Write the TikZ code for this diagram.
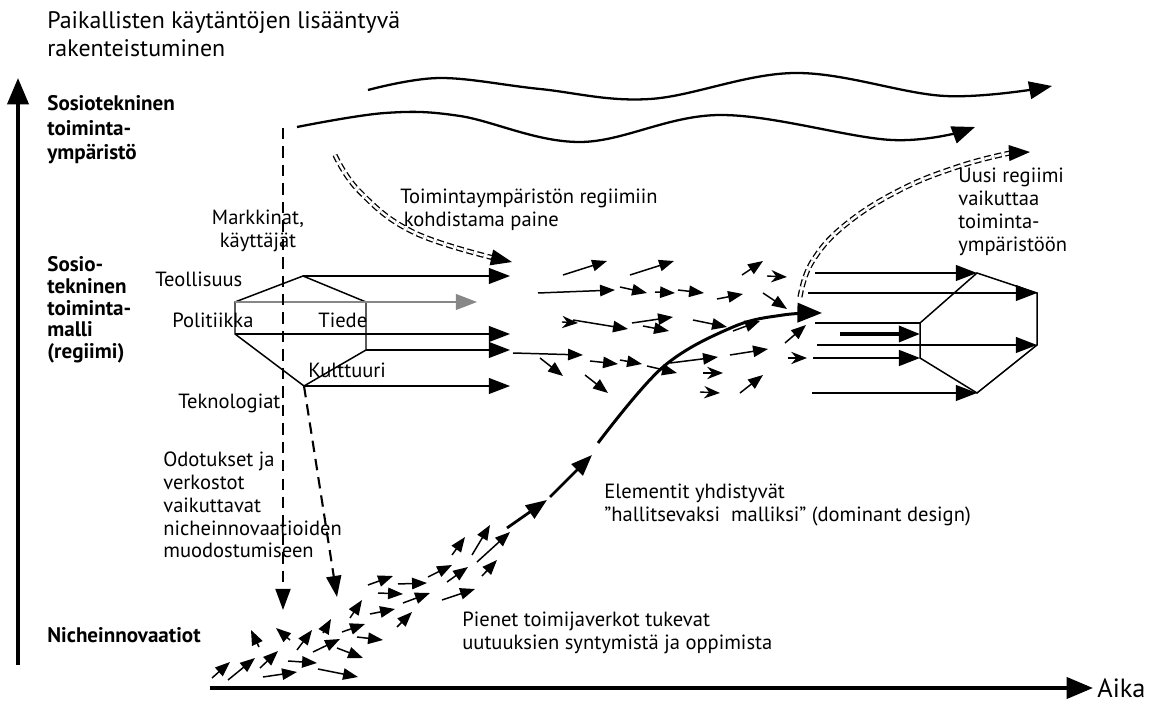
\documentclass[tikz,border=0pt]{standalone}
\usepackage{fontspec}
\setmainfont{PT Sans}
\usepackage{tikz}
\usetikzlibrary{arrows.meta}
\definecolor{gr}{RGB}{135, 135, 135}
\newcommand{\txtfont}{\fontsize{11.7}{13}\selectfont}
\newcommand{\bigfont}{\fontsize{13.6}{16}\selectfont}
\tikzset{
  lbl/.style={font=\txtfont, align=left, anchor=west, inner sep=0pt},
  lvl/.style={font=\fontsize{12}{14}\selectfont\bfseries, align=left, anchor=west, inner sep=0pt},
  hexline/.style={line width=0.85pt},
  hexarrow/.style={line width=0.85pt, -{Triangle[length=12pt,width=9pt]}},
  smallarrow/.style={line width=0.85pt, -{Triangle[length=8.5pt,width=6.5pt]}},
  headonly/.style={line width=0.8pt, -{Stealth[length=9pt,width=7pt]}},
  bigarrow/.style={line width=1.6pt, -{Triangle[length=12pt,width=9pt]}},
  dasharrow/.style={line width=1.2pt, dash pattern=on 6.5pt off 4pt, -{Triangle[length=12pt,width=8.5pt]}},
  ddash/.style={double, double distance=1.4pt, line width=0.75pt, dash pattern=on 4pt off 2pt},
  axisarrow/.style={line width=2.1pt, -{Triangle[length=15pt,width=12pt]}}
}

\begin{document}
\begin{tikzpicture}[x=0.02cm, y=-0.02cm]
        \useasboundingbox (0,0) rectangle (1154,702);
        % axes
        \coordinate (ylow) at (18,665);
        \coordinate (ytop) at (18,78);
        \coordinate (xlow) at (210,688);
        \coordinate (xtop) at (1093,688);
        \draw[axisarrow] (ylow) -- (ytop);
        \draw[axisarrow] (xlow) -- (xtop);
        \node[lbl, font=\fontsize{15}{17}\selectfont] (aika) at (1097,688) {Aika};

        % level labels
        \node[lbl, font=\bigfont] (paikalliset) at (47,34) {Paikallisten käytäntöjen lisääntyvä\\rakenteistuminen};
        \node[lvl] (ymparisto) at (47,130) {Sosiotekninen\\toiminta-\\ympäristö};
        \node[lvl, font=\fontsize{12}{12.3}\selectfont\bfseries] (regiimi) at (47,310) {Sosio-\\tekninen\\toiminta-\\malli\\(regiimi)};
        \node[lvl] (niche) at (47,635) {Nicheinnovaatiot};

        % landscape waves
        \draw[line width=1.3pt, -{Triangle[length=13pt,width=10pt]}] plot[smooth, tension=0.6] coordinates {(368,90) (440,78) (540,89) (650,99) (795,73) (945,96) (1052,86)};
        \draw[line width=1.3pt, -{Triangle[length=13pt,width=10pt]}] plot[smooth, tension=0.6] coordinates {(297,127) (385,113) (460,116) (580,142) (720,115) (892,140) (975,127)};

        % old regime
        \coordinate (h1) at (303,276);
        \coordinate (h2) at (366,302);
        \coordinate (h3) at (366,350);
        \coordinate (h4) at (304,386);
        \coordinate (h5) at (235,334);
        \coordinate (h6) at (235,302);
        \draw[hexline] (h1) -- (h2) -- (h3) -- (h4) -- (h5) -- (h6) -- cycle;
        \coordinate (e1) at (510,276);
        \coordinate (e2) at (477,302);
        \coordinate (e3) at (510,334);
        \coordinate (e4) at (510,350);
        \coordinate (e5) at (510,386);
        \draw[hexarrow] (h1) -- (e1);
        \draw[hexarrow, gr] (h6) -- (e2);
        \draw[hexarrow] (h5) -- (e3);
        \draw[hexarrow] (h3) -- (e4);
        \draw[hexarrow] (h4) -- (e5);
        \node[lbl] (teollisuus) at (155,279) {Teollisuus};
        \node[lbl] (politiikka) at (172,320) {Politiikka};
        \node[lbl] (tiede) at (318,320) {Tiede};
        \node[lbl] (kulttuuri) at (308,370) {Kulttuuri};
        \node[lbl] (teknologiat) at (178,403) {Teknologiat};
        \node[lbl, align=center, anchor=center] (markkinat) at (258,231) {Markkinat,\\käyttäjät};

        % dashed influence on niches
        \coordinate (d1) at (283,128);
        \coordinate (d2) at (283,610);
        \coordinate (d3) at (337,597);
        \draw[dasharrow] (d1) -- (d2);
        \draw[dasharrow] (h4) -- (d3);
        \node[lbl] (odotukset) at (163,505) {Odotukset ja\\verkostot\\vaikuttavat\\nicheinnovaatioiden\\muodostumiseen};

        % landscape pressure
        \coordinate (p1) at (494,258);
        \coordinate (p2) at (512,262);
        \draw[ddash] plot[smooth, tension=0.7] coordinates {(335,155) (360,192) (413,232) (494,258)};
        \draw[-{Triangle[length=12pt,width=9pt]}, line width=0.8pt] (p1) -- (p2);
        \node[lbl] (paine) at (400,210) {Toimintaympäristön regiimiin\\\,kohdistama paine};

        % niche arrows
        \foreach \xa/\ya/\xb/\yb in {212/678/230/662, 228/680/255/658, 260/668/278/651, 259/647/251/630,
            290/640/276/628, 297/650/312/630, 323/633/331/619, 263/677/297/672, 288/661/317/663,
            313/652/340/639, 318/669/358/677, 337/648/363/658, 342/632/365/624, 350/618/362/600,
            357/637/383/640, 370/614/395/609, 368/585/393/576, 378/593/403/594, 398/584/427/583,
            403/603/430/593, 397/627/412/612, 428/577/452/565, 447/582/468/567, 442/600/475/589,
            452/555/465/537, 472/555/490/525, 477/562/510/532, 482/576/497/560}
            \draw[smallarrow] (\xa,\ya) -- (\xb,\yb);
        \node[lbl] (pienet) at (462,633) {Pienet toimijaverkot tukevat\\uutuuksien syntymistä ja oppimista};

        % dominant design
        \coordinate (b1) at (507,528);
        \coordinate (b2) at (547,500);
        \coordinate (b3) at (550,497);
        \coordinate (b4) at (592,455);
        \coordinate (dd) at (822,313);
        \draw[bigarrow] (b1) -- (b2);
        \draw[bigarrow] (b3) -- (b4);
        \draw[line width=1.7pt, -{Triangle[length=14pt,width=11pt]}] plot[smooth, tension=0.6] coordinates {(598,443) (663,367) (733,327) (783,315) (822,313)};
        \node[lbl] (elementit) at (604,505) {Elementit yhdistyvät\\”hallitsevaksi \ malliksi” (dominant design)};

        % regime arrows
        \foreach \xa/\ya/\xb/\yb in {563/275/607/261, 630/275/674/261, 742/275/763/261, 538/293/615/290,
            620/287/647/293, 655/292/675/293, 678/290/704/293, 717/299/743/294, 763/293/787/309,
            573/320/628/329, 632/323/673/317, 643/326/669/331, 693/320/727/327, 733/331/760/321,
            513/353/583/355, 540/358/563/376, 590/361/618/364, 620/360/642/364, 647/366/677/373,
            670/363/718/357, 730/355/768/349, 585/375/608/393, 740/393/763/375, 785/343/806/325}
            \draw[smallarrow] (\xa,\ya) -- (\xb,\yb);
        \foreach \xa/\ya/\xb/\yb in {767/276/787/277, 562/322/578/323, 703/373/723/373, 700/392/720/393, 788/358/807/358}
            \draw[headonly] (\xa,\ya) -- (\xb,\yb);

        % new regime
        \coordinate (r1) at (977,273);
        \coordinate (r2) at (1037,293);
        \coordinate (r3) at (1037,345);
        \coordinate (r4) at (977,393);
        \coordinate (r5) at (920,358);
        \coordinate (r6) at (920,323);
        \draw[hexline] (r1) -- (r2) -- (r3) -- (r4) -- (r5) -- (r6) -- cycle;
        \coordinate (s1) at (815,273);
        \coordinate (s2) at (808,293);
        \coordinate (s3) at (815,323);
        \coordinate (s4) at (840,334);
        \coordinate (s5) at (817,345);
        \coordinate (s6) at (813,358);
        \coordinate (s7) at (812,393);
        \coordinate (t4) at (920,334);
        \draw[hexarrow] (s1) -- (r1);
        \draw[hexarrow] (s2) -- (r2);
        \draw[hexline] (s3) -- (r6);
        \draw[hexarrow, line width=2.2pt] (s4) -- (t4);
        \draw[hexarrow] (s5) -- (r3);
        \draw[hexarrow, line width=1.2pt] (s6) -- (r5);
        \draw[hexarrow] (s7) -- (r4);

        % new regime back to landscape
        \coordinate (q1) at (1010,153);
        \coordinate (q2) at (1030,152);
        \draw[ddash] plot[smooth, tension=0.7] coordinates {(800,297) (812,262) (845,225) (900,190) (960,166) (1010,153)};
        \draw[-{Triangle[length=12pt,width=9pt]}, line width=0.8pt] (q1) -- (q2);
        \node[lbl] (uusi) at (958,212) {Uusi regiimi\\vaikuttaa\\toiminta-\\ympäristöön};
    \end{tikzpicture}
\end{document}
